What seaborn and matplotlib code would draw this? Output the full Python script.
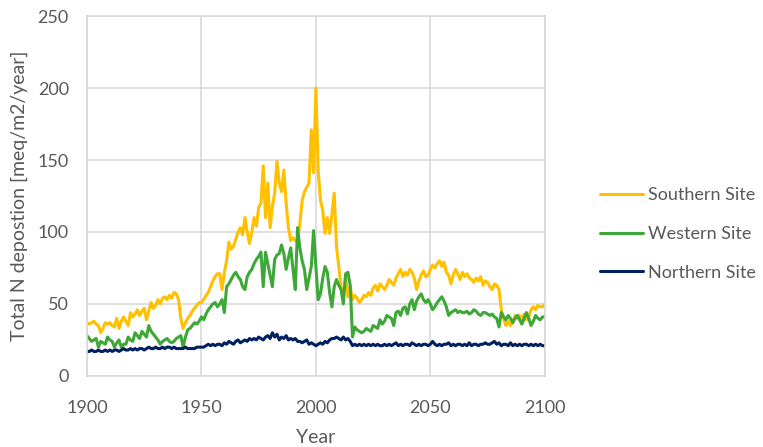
import numpy as np
import pandas as pd
import matplotlib.pyplot as plt
import seaborn as sns

# Yearly values, 1900-2100
years = list(range(1900, 2101))

southern = [
    37, 36, 37, 38, 36, 35, 30, 33, 37, 36,
    37, 35, 34, 40, 33, 38, 41, 38, 35, 44,
    41, 43, 46, 42, 45, 47, 39, 45, 51, 47,
    49, 53, 50, 54, 55, 53, 56, 54, 58, 57,
    53, 40, 33, 37, 40, 42, 45, 47, 49, 51,
    51, 53, 56, 58, 62, 66, 69, 71, 71, 60,
    72, 80, 93, 88, 90, 95, 100, 103, 98, 110,
    100, 92, 100, 110, 104, 117, 120, 146, 110, 134,
    103, 118, 127, 149, 134, 128, 143, 120, 103, 94,
    96, 94, 94, 106, 122, 128, 131, 134, 171, 141,
    200, 143, 122, 115, 99, 110, 99, 112, 127, 90,
    76, 62, 57, 69, 55, 62, 53, 56, 54, 51,
    53, 56, 55, 58, 56, 61, 63, 59, 64, 62,
    60, 63, 67, 65, 63, 68, 71, 74, 69, 72,
    70, 74, 72, 68, 60, 66, 70, 73, 69, 70,
    74, 77, 75, 78, 80, 76, 79, 72, 70, 64,
    70, 74, 71, 67, 72, 69, 71, 68, 67, 65,
    68, 66, 69, 63, 66, 65, 62, 60, 64, 63,
    60, 46, 40, 35, 38, 35, 37, 42, 40, 42,
    39, 43, 39, 41, 46, 48, 46, 49, 48, 48,
    50,
]

western = [
    28, 26, 24, 25, 26, 20, 24, 23, 22, 27,
    25, 24, 20, 23, 25, 20, 22, 22, 27, 25,
    24, 30, 28, 26, 31, 29, 27, 35, 31, 29,
    27, 25, 22, 24, 25, 26, 24, 23, 24, 26,
    27, 28, 20, 27, 32, 33, 35, 37, 36, 38,
    41, 39, 43, 46, 48, 50, 51, 48, 50, 53,
    44, 62, 64, 67, 70, 72, 69, 67, 62, 60,
    69, 72, 74, 78, 81, 83, 86, 62, 86, 78,
    70, 62, 81, 84, 85, 91, 85, 74, 82, 89,
    74, 60, 103, 89, 80, 74, 60, 68, 76, 101,
    76, 53, 57, 68, 76, 72, 58, 48, 62, 67,
    63, 60, 50, 71, 72, 63, 27, 34, 32, 31,
    30, 31, 33, 32, 31, 35, 34, 33, 39, 36,
    38, 42, 41, 40, 35, 44, 45, 42, 47, 48,
    43, 50, 53, 46, 52, 55, 57, 53, 51, 53,
    50, 46, 48, 51, 53, 55, 52, 48, 42, 44,
    45, 46, 44, 45, 44, 44, 45, 43, 44, 46,
    45, 43, 42, 44, 44, 43, 42, 43, 41, 40,
    34, 44, 41, 39, 42, 40, 37, 40, 42, 39,
    36, 40, 44, 40, 35, 38, 42, 40, 39, 41,
    41,
]

northern = [
    17, 17, 18, 17, 17, 18, 17, 17, 18, 17,
    18, 17, 18, 18, 17, 18, 19, 18, 18, 19,
    18, 19, 18, 19, 19, 18, 19, 20, 19, 19,
    20, 19, 19, 20, 19, 20, 20, 19, 20, 19,
    19, 19, 19, 20, 19, 19, 19, 19, 20, 20,
    20, 20, 21, 22, 21, 22, 21, 22, 22, 21,
    23, 22, 24, 23, 22, 24, 25, 23, 24, 25,
    24, 26, 25, 26, 25, 27, 26, 25, 27, 28,
    26, 30, 27, 29, 25, 27, 26, 28, 25, 26,
    25, 26, 24, 24, 23, 24, 25, 22, 23, 22,
    21, 22, 23, 22, 24, 23, 25, 26, 26, 27,
    26, 25, 27, 25, 26, 24, 21, 22, 21, 22,
    21, 22, 21, 22, 21, 22, 21, 22, 21, 21,
    22, 21, 22, 21, 22, 23, 21, 22, 21, 22,
    22, 21, 23, 22, 21, 22, 21, 22, 22, 21,
    22, 24, 22, 21, 22, 21, 22, 22, 23, 21,
    22, 21, 22, 22, 21, 22, 21, 23, 21, 22,
    22, 21, 22, 22, 23, 22, 22, 23, 24, 22,
    23, 21, 22, 22, 21, 23, 21, 22, 21, 22,
    21, 22, 22, 21, 22, 21, 22, 21, 22, 21,
    21,
]

site_names = ["Southern Site", "Western Site", "Northern Site"]
site_colors = ["#FFC000", "#3DA838", "#002060"]

df = pd.DataFrame({
    "Year": years * 3,
    "Deposition": southern + western + northern,
    "Site": np.repeat(site_names, len(years)),
})

sns.set_style("white")
plt.rcParams["font.family"] = ["Lato", "DejaVu Sans"]
text_grey = "#595959"
grid_grey = "#D9D9D9"

fig = plt.figure(figsize=(7.63, 4.47), dpi=100)
ax = fig.add_axes([0.114, 0.159, 0.6, 0.805])

sns.lineplot(
    data=df, x="Year", y="Deposition", hue="Site",
    hue_order=site_names, palette=site_colors,
    linewidth=2.2, ax=ax,
)

ax.set_xlim(1900, 2100)
ax.set_ylim(0, 250)
ax.set_xticks([1900, 1950, 2000, 2050, 2100])
ax.set_yticks([0, 50, 100, 150, 200, 250])
ax.grid(True, color=grid_grey, linewidth=1.2)
ax.set_axisbelow(True)
for side in ["left", "right", "top", "bottom"]:
    ax.spines[side].set_color(grid_grey)
    ax.spines[side].set_linewidth(1.2)
ax.tick_params(axis="x", length=0, pad=17, labelsize=13, colors=text_grey)
ax.tick_params(axis="y", length=0, pad=13, labelsize=13, colors=text_grey)

ax.set_xlabel("Year", fontsize=14, color=text_grey, labelpad=10)
ax.set_ylabel("Total N depostion [meq/m2/year]", fontsize=14,
              color=text_grey, labelpad=7)

handles, labels = ax.get_legend_handles_labels()
ax.get_legend().remove()
fig.legend(
    handles, labels, loc="center left", bbox_to_anchor=(0.786, 0.4765),
    frameon=False, fontsize=13, labelcolor=text_grey, handlelength=2.4,
    handletextpad=0.3, labelspacing=1.25, borderpad=0, borderaxespad=0,
)

fig.savefig("out.png", dpi=100)
